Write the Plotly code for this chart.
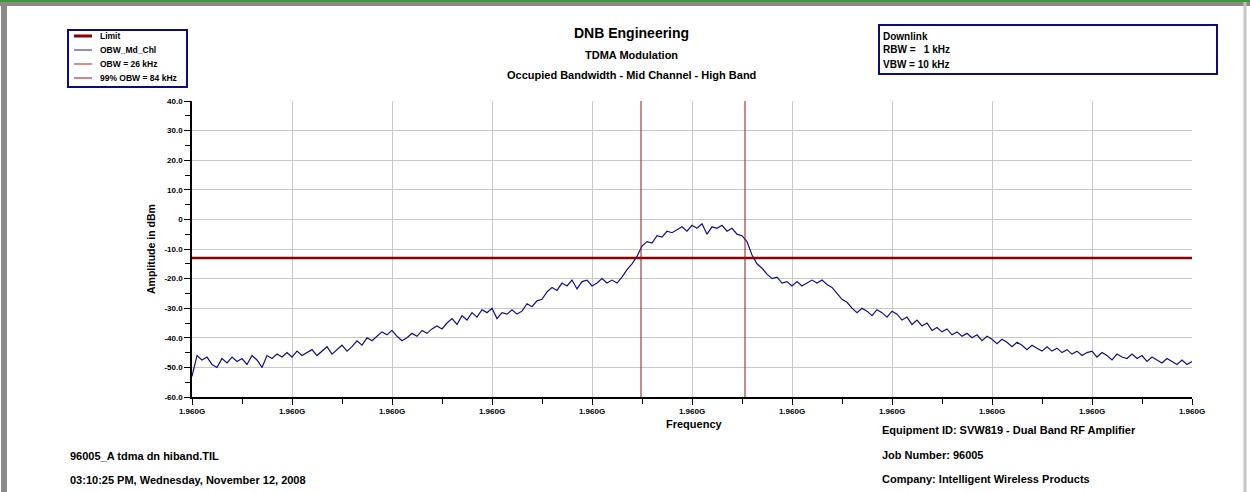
import numpy as np
import plotly.graph_objects as go

# sweep settings (Hz)
center_freq = 1.96e9
span = 250e3
limit_dbm = -13.0
obw_edges_khz = [-12.75, 13.25]

# measured trace, dBm, equally spaced over the span
trace_dbm = [
    -53, -46, -47.5, -46.5, -49, -50, -47, -48.5, -46.5, -48,
    -47, -49, -46, -47.5, -50, -46, -47, -45.5, -46.5, -45,
    -46.5, -44.5, -46, -45, -44, -46, -44.5, -43, -45.5, -44,
    -42.5, -44.5, -43, -41, -42.5, -40, -41, -39.5, -38, -39,
    -37.5, -39.5, -41, -40, -38.5, -39.5, -37.5, -38.5, -37, -36,
    -37, -35, -33.5, -35.5, -32.5, -34, -31.5, -33, -30.5, -31.5,
    -30, -33.5, -31.5, -32, -30.5, -32, -31, -28.5, -29.5, -27.5,
    -27, -24.5, -23, -24, -21.5, -22.5, -20.5, -23.5, -21, -20.5,
    -22.5, -21.5, -20, -21.5, -20.5, -21.5, -19.5, -17, -15, -12.5,
    -9, -7.5, -8, -5.5, -6, -4, -4.5, -3.5, -2.5, -4,
    -2, -3, -1.5, -5, -2.5, -3, -2, -4, -3, -5,
    -5.5, -7.5, -12, -15, -16.5, -18.5, -20, -19.5, -21.5, -21,
    -22.5, -21, -22.5, -21.5, -20.5, -21.5, -20.5, -22, -23, -25,
    -27, -28, -30, -31.5, -30, -31, -32.5, -30.5, -31.5, -33,
    -31, -32, -34, -33, -35.5, -34, -36, -35, -37.5, -36.5,
    -38, -37, -39, -38, -39.5, -38.5, -40, -39, -41, -39.5,
    -40.5, -42, -40.5, -41.5, -43, -41.5, -42.5, -44, -42.5, -43.5,
    -44.5, -43, -44.5, -43.5, -45, -44, -45.5, -44.5, -46, -45,
    -44.5, -46.5, -45, -46, -47.5, -45.5, -46.5, -47, -45.5, -47,
    -46, -48, -46.5, -47.5, -48.5, -47, -48, -49, -47.5, -49,
    -48,
]

y_ticks = [40, 30, 20, 10, 0, -10, -20, -30, -40, -50, -60]
y_ticktext = ["40.0", "30.0", "20.0", "10.0", "0", "-10.0", "-20.0",
              "-30.0", "-40.0", "-50.0", "-60.0"]

legend_names = ["Limit", "OBW_Md_Chl", "OBW = 26 kHz", "99% OBW = 84 kHz"]
legend_colors = ["#8b0000", "#1c1c9c", "#cc1111", "#8b1a1a"]
legend_widths = [3, 1, 1, 1]

title_lines = ["DNB Engineering", "TDMA Modulation",
               "Occupied Bandwidth - Mid Channel - High Band"]
info_lines = ["Downlink", "RBW =   1 kHz", "VBW = 10 kHz"]
left_notes = ["96005_A tdma dn hiband.TIL",
              "03:10:25 PM, Wednesday, November 12, 2008"]
right_notes = ["Equipment ID: SVW819 - Dual Band RF Amplifier",
               "Job Number: 96005",
               "Company: Intelligent Wireless Products"]

W, H = 1250, 492
L, T, PW, PH = 192, 101, 1000, 296
FONT = "Liberation Sans, Arial, sans-serif"


def px(x, y):
    # page pixels -> paper coords
    return (x - L) / PW, (T + PH - y) / PH


f_start = center_freq - span / 2
f_stop = center_freq + span / 2
freqs = np.linspace(f_start, f_stop, len(trace_dbm))

fig = go.Figure()
fig.add_trace(go.Scatter(x=freqs, y=trace_dbm, mode="lines",
                         line=dict(color="#10108a", width=1.2),
                         name="OBW_Md_Chl", showlegend=False))
fig.add_trace(go.Scatter(x=[f_start, f_stop], y=[limit_dbm, limit_dbm],
                         mode="lines", line=dict(color="#8b0000", width=2.5),
                         name="Limit", showlegend=False))
for e in obw_edges_khz:
    f = center_freq + e * 1e3
    fig.add_trace(go.Scatter(x=[f, f], y=[-60, 40], mode="lines",
                             line=dict(color="#8b1a1a", width=1),
                             showlegend=False, hoverinfo="skip"))

shapes = []
ann = []

# window frame
shapes.append(dict(type="rect", xref="paper", yref="paper",
                   x0=px(0, 0)[0], x1=px(W, 0)[0], y0=px(0, 0)[1], y1=px(0, 2)[1],
                   line=dict(width=0), fillcolor="#3c9a3c"))
shapes.append(dict(type="rect", xref="paper", yref="paper",
                   x0=px(0, 0)[0], x1=px(W, 0)[0], y0=px(0, 2)[1], y1=px(0, 6)[1],
                   line=dict(width=0), fillcolor="#8a8a8a"))
lx, ly0 = px(4, 2)
_, ly1 = px(4, H)
shapes.append(dict(type="line", xref="paper", yref="paper", x0=lx, x1=lx, y0=ly0, y1=ly1,
                   line=dict(color="#8a8a8a", width=6)))
rx, _ = px(1245, 0)
shapes.append(dict(type="line", xref="paper", yref="paper", x0=rx, x1=rx, y0=ly0, y1=ly1,
                   line=dict(color="#c4c4c4", width=3)))

# legend box
x0, y0 = px(68, 30)
x1, y1 = px(187, 87)
shapes.append(dict(type="rect", xref="paper", yref="paper", x0=x0, y0=y0, x1=x1, y1=y1,
                   line=dict(color="#0c0c80", width=2)))
for i, (n, c, w) in enumerate(zip(legend_names, legend_colors, legend_widths)):
    yy = 36 + 14 * i
    a0, b0 = px(74, yy)
    a1, _ = px(92, yy)
    shapes.append(dict(type="line", xref="paper", yref="paper", x0=a0, x1=a1, y0=b0, y1=b0,
                       line=dict(color=c, width=w)))
    tx, ty = px(98, yy)
    ann.append(dict(x=tx, y=ty, xref="paper", yref="paper", text="<b>%s</b>" % n,
                    showarrow=False, xanchor="left", yanchor="middle",
                    font=dict(size=8.5, color="black", family=FONT)))

# info box
x0, y0 = px(879, 25)
x1, y1 = px(1217, 74)
shapes.append(dict(type="rect", xref="paper", yref="paper", x0=x0, y0=y0, x1=x1, y1=y1,
                   line=dict(color="#0c0c80", width=2)))
for i, t in enumerate(info_lines):
    tx, ty = px(881, 36 + 14 * i)
    ann.append(dict(x=tx, y=ty, xref="paper", yref="paper", text="<b>%s</b>" % t,
                    showarrow=False, xanchor="left", yanchor="middle",
                    font=dict(size=10, color="black", family=FONT)))

# titles
for t, yy, s in zip(title_lines, [33, 55, 75], [14, 11, 11]):
    tx, ty = px(631, yy)
    ann.append(dict(x=tx, y=ty, xref="paper", yref="paper", text="<b>%s</b>" % t,
                    showarrow=False, xanchor="center", yanchor="middle",
                    font=dict(size=s, color="black", family=FONT)))

# footer notes
for t, yy in zip(left_notes, [456, 480]):
    tx, ty = px(68, yy)
    ann.append(dict(x=tx, y=ty, xref="paper", yref="paper", text="<b>%s</b>" % t,
                    showarrow=False, xanchor="left", yanchor="middle",
                    font=dict(size=11, color="black", family=FONT)))
for t, yy in zip(right_notes, [430, 455, 479]):
    tx, ty = px(880, yy)
    ann.append(dict(x=tx, y=ty, xref="paper", yref="paper", text="<b>%s</b>" % t,
                    showarrow=False, xanchor="left", yanchor="middle",
                    font=dict(size=11, color="black", family=FONT)))

# axis titles
tx, ty = px(694, 424)
ann.append(dict(x=tx, y=ty, xref="paper", yref="paper", text="<b>Frequency</b>",
                showarrow=False, xanchor="center", yanchor="middle",
                font=dict(size=11, color="black", family=FONT)))
tx, ty = px(151, 249)
ann.append(dict(x=tx, y=ty, xref="paper", yref="paper", text="<b>Amplitude in dBm</b>",
                showarrow=False, xanchor="center", yanchor="middle", textangle=-90,
                font=dict(size=10.5, color="black", family=FONT)))

fig.update_layout(
    width=W, height=H,
    margin=dict(l=L, r=W - L - PW, t=T, b=H - T - PH),
    paper_bgcolor="white", plot_bgcolor="white",
    showlegend=False,
    font=dict(family=FONT, size=8, color="black"),
    shapes=shapes, annotations=ann,
)
fig.update_xaxes(range=[f_start, f_stop], tick0=f_start, dtick=span / 10,
                 tickformat=".4s", showgrid=True, gridcolor="#c8c8c8", gridwidth=1,
                 showline=True, linecolor="black", linewidth=1.5,
                 ticks="outside", ticklen=6, tickcolor="black",
                 minor=dict(dtick=span / 20, tick0=f_start, ticks="outside",
                            ticklen=5, tickcolor="black", showgrid=False),
                 tickfont=dict(size=8, family=FONT, weight="bold"), zeroline=False)
fig.update_yaxes(range=[-60, 40], tickmode="array", tickvals=y_ticks, ticktext=y_ticktext,
                 showgrid=True, gridcolor="#c8c8c8", gridwidth=1,
                 showline=True, linecolor="black", linewidth=1.5,
                 ticks="outside", ticklen=6, tickcolor="black",
                 minor=dict(dtick=5, tick0=0, ticks="outside", ticklen=5,
                            tickcolor="black", showgrid=False),
                 tickfont=dict(size=8, family=FONT, weight="bold"), zeroline=False)

fig.write_html("out.html", config={"displayModeBar": False},
               post_script="document.body.style.margin='0';")
